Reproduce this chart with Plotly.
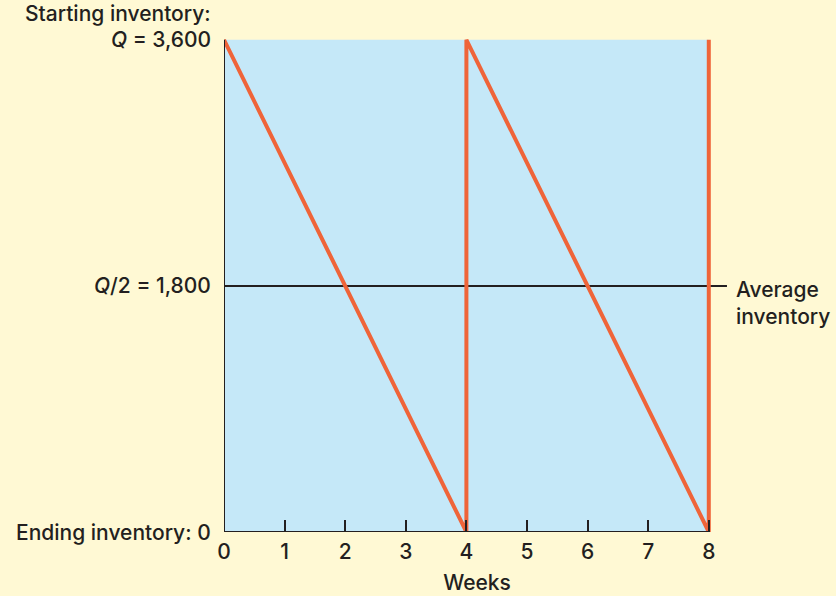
import plotly.graph_objects as go

# ---- data ----
weeks = [0, 4, 4, 8, 8]
inventory = [3600, 0, 3600, 0, 3600]
x_ticks = [0, 1, 2, 3, 4, 5, 6, 7, 8]
x_tick_labels = ["0", "1", "2", "3", "4", "5", "6", "7", "8"]
Q = 3600
avg_inventory = Q / 2
y_label_values = [Q, avg_inventory, 0]
y_label_texts = ["<i>Q</i> = 3,600", "<i>Q</i>/2 = 1,800", "Ending inventory: 0"]
top_caption = "Starting inventory:"
avg_caption = "Average<br>inventory"
x_title = "Weeks"

# ---- style ----
BG = "#FFF9D4"
BLUE = "#C5E8F8"
ORANGE = "#EF6439"
INK = "#231F20"
FONT = "Inter, Liberation Sans, Arial, sans-serif"
FS = 21
FW = 500
X_MAX = 8
X_RANGE_END = 8.35
AVG_LINE_END = 8.3
Y_RANGE_END = 3650

def tfont():
    return dict(family=FONT, size=FS, color=INK, weight=FW)

fig = go.Figure()

fig.add_trace(go.Scatter(
    x=weeks, y=inventory, mode="lines",
    line=dict(color=ORANGE, width=4), hoverinfo="skip", showlegend=False,
))

shapes = [
    dict(type="rect", xref="x", yref="y", x0=0, x1=X_MAX, y0=0, y1=Q,
         fillcolor=BLUE, line=dict(width=0), layer="below"),
    dict(type="line", xref="x", yref="y", x0=0, x1=AVG_LINE_END,
         y0=avg_inventory, y1=avg_inventory,
         line=dict(color=INK, width=2), layer="below"),
    dict(type="line", xref="x", yref="y", x0=0, x1=0, y0=0, y1=Q,
         line=dict(color=INK, width=2), layer="above"),
    dict(type="line", xref="x", yref="y", x0=0, x1=X_MAX, y0=0, y1=0,
         line=dict(color=INK, width=2), layer="above"),
]

annotations = []
for v, t in zip(y_label_values, y_label_texts):
    annotations.append(dict(
        xref="paper", yref="y", x=0, y=v, text=t, showarrow=False,
        xanchor="right", yanchor="middle", xshift=-11, font=tfont()))
annotations.append(dict(
    xref="paper", yref="y", x=0, y=Q, text=top_caption, showarrow=False,
    xanchor="right", yanchor="middle", xshift=-11, yshift=26, font=tfont()))
annotations.append(dict(
    xref="paper", yref="y", x=1, y=avg_inventory, text=avg_caption,
    showarrow=False, xanchor="left", yanchor="top", align="left",
    xshift=4, yshift=11, font=tfont()))

fig.update_layout(
    width=836, height=596,
    paper_bgcolor=BG, plot_bgcolor=BG,
    margin=dict(l=224, r=106, t=33, b=64),
    font=tfont(),
    shapes=shapes, annotations=annotations,
    xaxis=dict(
        range=[0, X_RANGE_END], tickvals=x_ticks, ticktext=x_tick_labels,
        ticks="inside", ticklen=12, tickwidth=2, tickcolor=INK,
        showgrid=False, zeroline=False, showline=False,
        tickfont=tfont(), ticklabelstandoff=5, automargin=False,
        title=dict(text=x_title, font=tfont(), standoff=12),
    ),
    yaxis=dict(
        range=[0, Y_RANGE_END], showticklabels=False, ticks="",
        showgrid=False, zeroline=False, showline=False, automargin=False,
    ),
)

fig.write_html("out.html", config={"displayModeBar": False},
               post_script="document.body.style.margin='0';")
